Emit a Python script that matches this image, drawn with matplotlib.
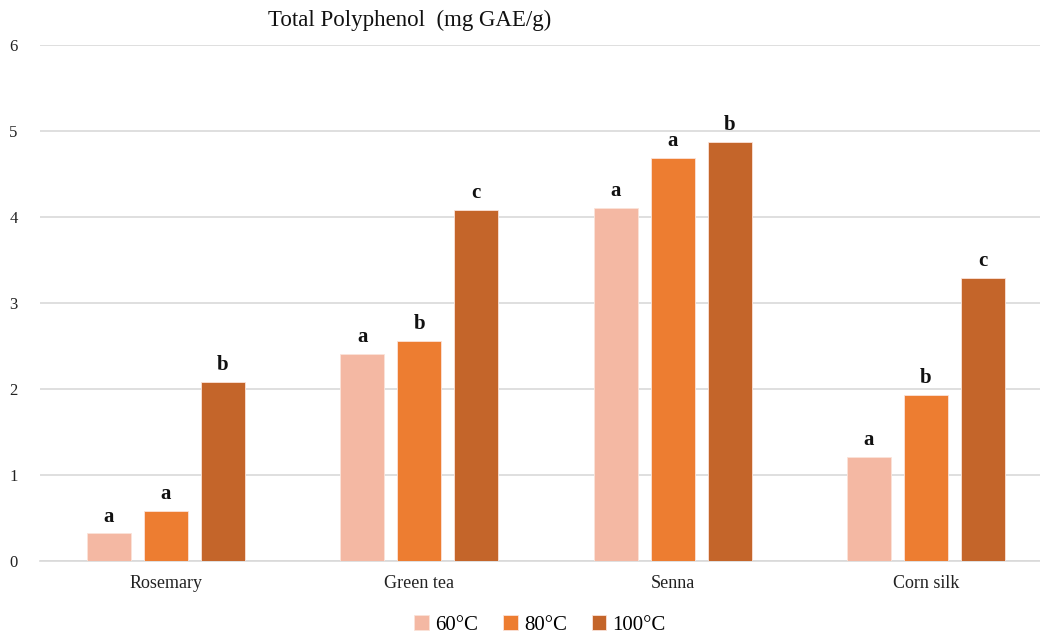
import matplotlib
matplotlib.use("Agg")
import matplotlib.pyplot as plt
import numpy as np

plt.rcParams['font.family'] = ['Liberation Serif', 'DejaVu Serif']

categories = ["Rosemary", "Green tea", "Senna", "Corn silk"]
series_names = ["60\u00b0C", "80\u00b0C", "100\u00b0C"]
values_60 = [0.32, 2.41, 4.10, 1.21]
values_80 = [0.58, 2.56, 4.69, 1.93]
values_100 = [2.08, 4.08, 4.87, 3.29]
letters_60 = ["a", "a", "a", "a"]
letters_80 = ["a", "b", "a", "b"]
letters_100 = ["b", "c", "b", "c"]
y_ticks = [0, 1, 2, 3, 4, 5, 6]

colors = ["#F4B8A3", "#ED7D31", "#C4652A"]
series = [values_60, values_80, values_100]
letters = [letters_60, letters_80, letters_100]

fig = plt.figure(figsize=(10.4, 6.39), dpi=100)
ax = fig.add_axes([40 / 1040, 1 - 561 / 639, 1 - 40 / 1040, (561 - 45) / 639])

x = np.arange(len(categories))
bar_w = 0.174
step = 0.225
for i, (vals, col, labs) in enumerate(zip(series, colors, letters)):
    pos = x + (i - 1) * step
    ax.bar(pos, vals, width=bar_w, color=col, edgecolor="#FBE3D9", linewidth=0.6,
           label=series_names[i], zorder=3)
    for px, v, lab in zip(pos, vals, labs):
        ax.annotate(lab, (px, v), xytext=(0, 5), textcoords="offset points",
                    ha="center", va="bottom", fontsize=15, fontweight="bold",
                    color="#111111")

ax.set_xlim(-0.497, 3.45)
ax.set_ylim(0, 6)
ax.set_yticks(y_ticks)
ax.set_yticklabels([str(t) for t in y_ticks], fontsize=12)
ax.set_xticks(x)
ax.set_xticklabels(categories, fontsize=13)
ax.tick_params(axis="both", length=0, colors="#222222")
ax.tick_params(axis="y", pad=16)
ax.tick_params(axis="x", pad=10)
ax.grid(axis="y", color="#D9D9D9", linewidth=1.2, zorder=0)
for s in ["top", "right", "left"]:
    ax.spines[s].set_visible(False)
ax.spines["bottom"].set_color("#D9D9D9")
ax.spines["bottom"].set_linewidth(1.2)

fig.text(410 / 1040, 1 - 20 / 639, "Total Polyphenol  (mg GAE/g)", ha="center",
         va="center", fontsize=16.5, color="#111111")

handles, labels = ax.get_legend_handles_labels()
fig.legend(handles, labels, loc="center", bbox_to_anchor=(540 / 1040, 1 - 625 / 639),
           ncol=3, frameon=False, fontsize=15, handlelength=0.7, handleheight=0.7,
           handletextpad=0.3, columnspacing=1.2)

fig.savefig("out.png", dpi=100)
